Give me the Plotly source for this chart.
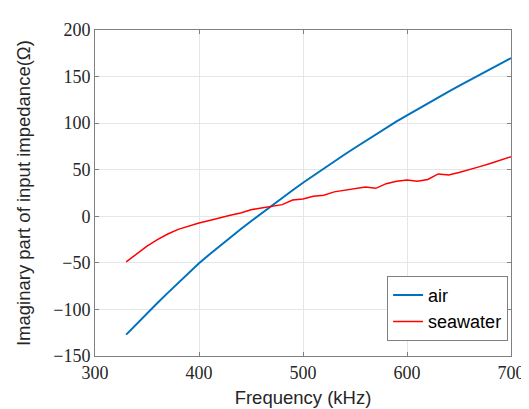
import plotly.graph_objects as go

freq = [330, 340, 350, 360, 370, 380, 390, 400, 410, 420, 430, 440, 450, 460, 470, 480, 490,
        500, 510, 520, 530, 540, 550, 560, 570, 580, 590, 600, 610, 620, 630, 640, 650, 660,
        670, 680, 690, 700]
air = [-127, -115.5, -104.2, -93.1, -82.2, -71.5, -61.1, -50.5, -41, -31.8, -22.8, -14,
       -5.3, 3.2, 11.6, 19.9, 28.0, 36.0, 43.8, 51.4, 58.9, 66.3, 73.6, 80.8, 88.0, 95.0,
       101.8, 108.4, 114.9, 121.3, 127.6, 133.8, 139.9, 145.9, 151.9, 157.9, 163.9, 169.9]
seawater = [-49, -41, -32, -25, -19, -14, -10.3, -7.3, -4.5, -1.5, 1, 3.5, 7, 9, 10.8, 12.5, 17.5,
            18.5, 21.5, 22.7, 26.2, 27.8, 29.7, 31.5, 30, 35, 37.5, 39, 37.5, 39.5, 45.5, 44.3,
            47, 50.5, 53.3, 56.6, 60, 64]

fig = go.Figure()
fig.add_trace(go.Scatter(x=freq, y=air, mode="lines", name="air",
                         line=dict(color="#0072BD", width=2)))
fig.add_trace(go.Scatter(x=freq, y=seawater, mode="lines", name="seawater",
                         line=dict(color="#FF0000", width=1.5)))

tickfont = dict(family="Liberation Serif, DejaVu Serif, serif", size=18, color="#262626")
titlefont = dict(family="Liberation Sans, Arial, sans-serif", size=18.5, color="#262626")

axis_common = dict(showline=True, linecolor="#808080", linewidth=1, mirror="ticks",
                   ticks="inside", ticklen=4, tickcolor="#808080",
                   showgrid=True, gridcolor="#E6E6E6", gridwidth=1, zeroline=False,
                   tickfont=tickfont)

fig.update_xaxes(range=[300, 700], dtick=100, tick0=300,
                 title=dict(text="Frequency (kHz)", font=titlefont, standoff=9),
                 **axis_common)
fig.update_yaxes(range=[-150, 200], dtick=50, tick0=0, **axis_common)

fig.add_annotation(text="Imaginary part of input impedance(Ω)", textangle=-90,
                   xref="paper", yref="paper", x=-0.173, y=0.5,
                   xanchor="center", yanchor="middle", showarrow=False,
                   font=titlefont)

fig.update_layout(
    width=529, height=409,
    margin=dict(l=87, r=14, t=21, b=55),
    paper_bgcolor="white", plot_bgcolor="white",
    legend=dict(x=0.993, y=0.246, xanchor="right", yanchor="top",
                bgcolor="white", bordercolor="#808080", borderwidth=1,
                font=dict(family="Liberation Sans, Arial, sans-serif", size=18, color="#000000"),
                tracegroupgap=0),
    showlegend=True,
)

fig.write_html("out.html")
